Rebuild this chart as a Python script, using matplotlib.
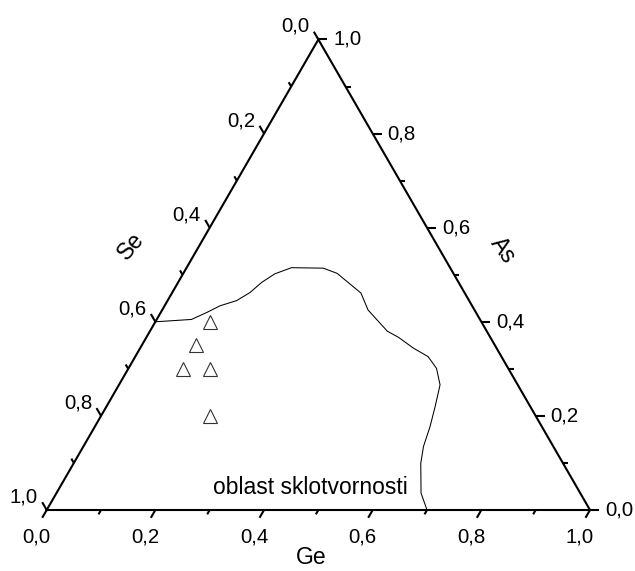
import numpy as np
import matplotlib
matplotlib.use("Agg")
import matplotlib.pyplot as plt

plt.rcParams["font.family"] = ["Liberation Sans", "DejaVu Sans"]

# glass-forming region boundary, ternary fractions (Ge, As); Se = 1 - Ge - As
edge_ge = [0.0, 0.064, 0.085, 0.102, 0.127, 0.143, 0.154, 0.169, 0.193, 0.252,
           0.283, 0.348, 0.379, 0.437, 0.464, 0.503, 0.539, 0.567, 0.591, 0.605,
           0.617, 0.626, 0.639, 0.671, 0.700]
edge_as = [0.400, 0.405, 0.420, 0.434, 0.445, 0.462, 0.484, 0.502, 0.515, 0.514,
           0.503, 0.461, 0.425, 0.380, 0.367, 0.344, 0.326, 0.301, 0.266, 0.220,
           0.177, 0.135, 0.099, 0.036, 0.0]

# studied compositions
samp_ge = [0.10, 0.10, 0.10, 0.15, 0.20]
samp_as = [0.40, 0.35, 0.30, 0.30, 0.20]

major = [0.0, 0.2, 0.4, 0.6, 0.8, 1.0]
minor = [0.1, 0.3, 0.5, 0.7, 0.9]
labels = ["0,0", "0,2", "0,4", "0,6", "0,8", "1,0"]

S3 = np.sqrt(3) / 2


def xy(ge, a):
    ge = np.asarray(ge, float)
    a = np.asarray(a, float)
    return ge + 0.5 * a, S3 * a


W, H = 635, 571
SCALE = 543.3          # pixels per unit edge length
X0, Y0 = 46.7, 61.0    # bottom-left corner, pixels from lower left
PX = 1 / SCALE

fig = plt.figure(figsize=(W / 100, H / 100), dpi=100)
ax = fig.add_axes([0, 0, 1, 1])
ax.set_xlim(-X0 / SCALE, (W - X0) / SCALE)
ax.set_ylim(-Y0 / SCALE, (H - Y0) / SCALE)
ax.axis("off")

ax.plot([0, 1, 0.5, 0], [0, 0, S3, 0], color="black", lw=1.5,
        solid_joinstyle="miter", zorder=3)

FS = 14.7      # tick labels
FT = 16.5      # axis titles and annotation
d_bot = np.array([-0.5, -S3])
d_left = np.array([-0.5, S3])
d_right = np.array([1.0, 0.0])


def tick(p, d, ln):
    ax.plot([p[0], p[0] + d[0] * ln * PX], [p[1], p[1] + d[1] * ln * PX],
            color="black", lw=1.5, solid_capstyle="butt", zorder=3)


for v in major + minor:
    ln = 9 if v in major else 5
    # bottom axis: Ge
    tick(xy(v, 0), d_bot, ln)
    # left axis: Se (0 at top)
    tick(xy(0, 1 - v), d_left, ln)
    # right axis: As (0 at bottom right)
    tick(xy(1 - v, v), d_right, ln)

for v, t in zip(major, labels):
    x, y = xy(v, 0)
    ax.text(x - 10 * PX, y - 27 * PX, t, ha="center", va="center", fontsize=FS)
    x, y = xy(0, 1 - v)
    ax.text(x - 9 * PX, y + 13 * PX, t, ha="right", va="center", fontsize=FS)
    x, y = xy(1 - v, v)
    ax.text(x + 15 * PX, y, t, ha="left", va="center", fontsize=FS)

ax.text(0.5 - 7 * PX, -48 * PX, "Ge", ha="center", va="center", fontsize=FT)
ax.text(xy(0, 0.56)[0] - 68 * PX, xy(0, 0.56)[1], "Se", rotation=50,
        ha="center", va="center", fontsize=FT)
ax.text(xy(1 - 0.5526, 0.5526)[0] + 63 * PX, xy(1 - 0.5526, 0.5526)[1], "As",
        rotation=-55, ha="center", va="center", fontsize=FT)

bx, by = xy(edge_ge, edge_as)
ax.plot(bx, by, color="black", lw=0.75, zorder=2)

sx, sy = xy(samp_ge, samp_as)
ax.plot(sx, sy, linestyle="none", marker="^", ms=9.5, mfc="white",
        mec="#333333", mew=0.8, zorder=4)

ax.text(0.4857, 22 * PX, "oblast sklotvornosti", ha="center", va="center",
        fontsize=FT)

fig.savefig("out.png", dpi=100)
